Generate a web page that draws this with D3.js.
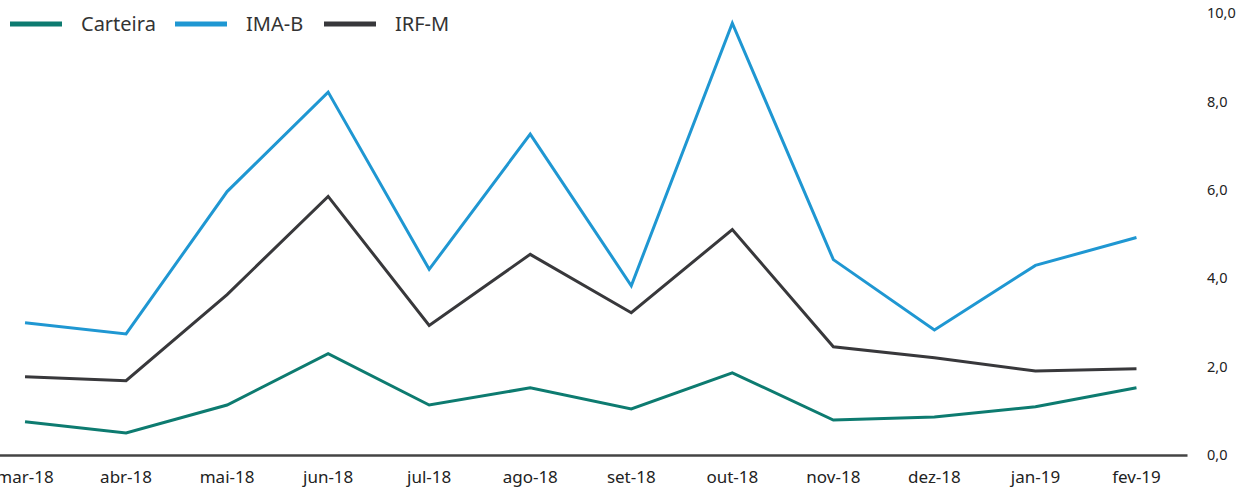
<!DOCTYPE html>
<html>
<head>
<meta charset="utf-8">
<script src="https://cdn.jsdelivr.net/npm/d3@7"></script>
<style>
  body { margin: 0; background: #fff; }
  svg { display: block; font-family: "Noto Sans", "Open Sans", sans-serif; }
</style>
</head>
<body>
<div id="chart"></div>
<script>
const months = ["mar-18", "abr-18", "mai-18", "jun-18", "jul-18", "ago-18",
                "set-18", "out-18", "nov-18", "dez-18", "jan-19", "fev-19"];
const carteira = [0.75, 0.50, 1.13, 2.29, 1.13, 1.52, 1.04, 1.86, 0.79, 0.86, 1.09, 1.52];
const imaB     = [2.99, 2.74, 5.96, 8.21, 4.20, 7.26, 3.83, 9.77, 4.42, 2.83, 4.29, 4.92];
const irfM     = [1.77, 1.68, 3.63, 5.85, 2.93, 4.54, 3.22, 5.10, 2.45, 2.20, 1.90, 1.95];
const yTicks   = [0, 2, 4, 6, 8, 10];

const series = [
    {name: "Carteira", values: carteira, color: "#0d7b70"},
    {name: "IMA-B", values: imaB, color: "#1f97d2"},
    {name: "IRF-M", values: irfM, color: "#38383b"}
];

const width = 1243, height = 488;

const svg = d3.select("#chart").append("svg")
    .attr("width", width)
    .attr("height", height);

// band scale so the points sit in the middle of each month slot
const x = d3.scaleBand()
    .domain(months)
    .range([-25.5, 1187]);

const y = d3.scaleLinear()
    .domain([0, 10])
    .range([455, 13]);

// x axis (baseline + month labels)
const xAxis = svg.append("g")
    .attr("transform", "translate(0," + y(0) + ")")
    .call(d3.axisBottom(x).tickSize(0).tickPadding(16));
xAxis.select(".domain").attr("stroke", "#444").attr("stroke-width", 2.5);
xAxis.selectAll("text")
    .attr("fill", "#222")
    .style("font-size", "17px")
    .style("font-family", "\"Noto Sans\", sans-serif");

// right axis labels only
const yAxis = svg.append("g")
    .attr("transform", "translate(1207,0)")
    .call(d3.axisRight(y).tickValues(yTicks).tickSize(0).tickPadding(0)
        .tickFormat(d => d3.format(".1f")(d).replace(".", ",")));
yAxis.select(".domain").remove();
yAxis.selectAll("text")
    .attr("fill", "#222")
    .style("font-size", "14.5px")
    .style("font-family", "\"Noto Sans\", sans-serif");

const line = d3.line()
    .x((d, i) => x(months[i]) + x.bandwidth() / 2)
    .y(d => y(d));

svg.selectAll(".series")
    .data(series)
    .enter()
    .append("path")
    .attr("class", "series")
    .attr("fill", "none")
    .attr("stroke", d => d.color)
    .attr("stroke-width", 3)
    .attr("stroke-linejoin", "miter")
    .attr("d", d => line(d.values));

// legend
const legendX = [10, 175, 324];
const legend = svg.selectAll(".legend")
    .data(series)
    .enter()
    .append("g")
    .attr("class", "legend")
    .attr("transform", (d, i) => "translate(" + legendX[i] + ",24)");

legend.append("line")
    .attr("x1", 0).attr("x2", 52)
    .attr("stroke", d => d.color)
    .attr("stroke-width", 5);

legend.append("text")
    .attr("x", 71)
    .attr("dy", "0.35em")
    .attr("fill", "#333")
    .style("font-size", "20px")
    .text(d => d.name);
</script>
</body>
</html>
